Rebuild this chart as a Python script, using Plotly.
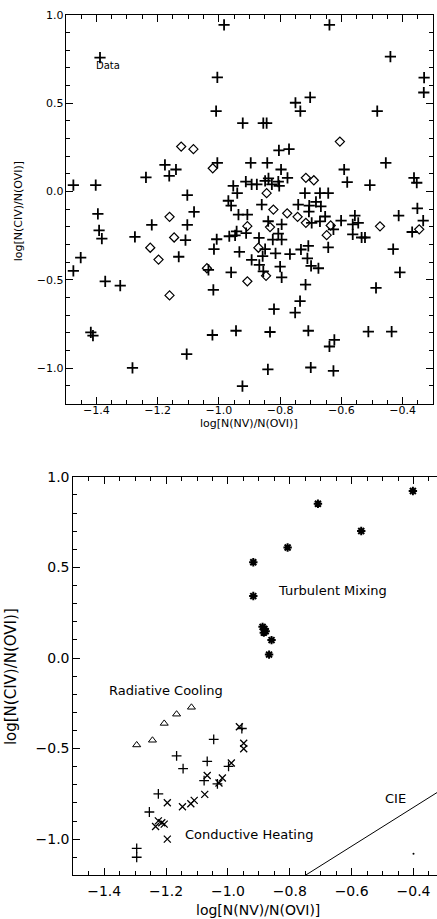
import plotly.graph_objects as go

# Top panel: observed data
data_plus_x = [
    -1.388, -1.005, -1.009, -1.005, -1.176, -1.162, -1.140, -1.238, -1.475, -1.402,
    -1.103, -1.395, -1.081, -0.983, -0.639, -0.440, -0.330, -0.331, -0.750, -0.702,
    -0.734, -0.483, -0.922, -0.855, -0.844, -0.804, -0.771, -0.896, -0.842, -0.455,
    -0.797, -0.591, -0.912, -0.893, -0.876, -0.849, -0.838, -0.827, -0.806, -0.803,
    -0.776, -0.581, -0.507, -0.363, -0.354, -0.953, -0.940, -0.719, -0.670, -0.643,
    -0.969, -0.960, -0.860, -0.741, -0.705, -0.683, -0.667, -0.706, -0.936, -0.907,
    -0.653, -0.556, -0.413, -0.352, -0.333, -1.219, -1.103, -1.391, -1.382, -1.274,
    -1.109, -1.007, -1.016, -1.451, -1.131, -1.475, -1.034, -1.371, -1.322, -1.018,
    -1.418, -1.411, -1.021, -1.105, -1.282, -0.839, -0.795, -0.966, -0.942, -0.947,
    -0.911, -0.806, -0.824, -0.795, -0.869, -0.849, -0.933, -0.815, -0.857, -0.893,
    -0.868, -0.800, -0.960, -0.855, -0.697, -0.670, -0.626, -0.601, -0.563, -0.545,
    -0.563, -0.534, -0.523, -0.369, -0.431, -0.409, -0.487, -0.643, -0.768, -0.732,
    -0.708, -0.711, -0.699, -0.675, -0.795, -0.717, -0.735, -0.820, -0.751, -0.944,
    -0.833, -0.708, -0.512, -0.436, -0.623, -0.639, -0.840, -0.700, -0.626, -0.923,
]
data_plus_y = [
    0.758, 0.646, 0.455, 0.162, 0.151, 0.089, 0.125, 0.080, 0.037, 0.037,
    -0.020, -0.126, -0.115, 0.944, 0.944, 0.764, 0.645, 0.561, 0.503, 0.533,
    0.455, 0.455, 0.388, 0.388, 0.388, 0.233, 0.240, 0.162, 0.162, 0.162,
    0.125, 0.125, 0.056, 0.041, 0.041, 0.060, 0.075, 0.041, 0.056, 0.032,
    0.078, 0.053, 0.037, 0.077, 0.050, 0.032, -0.009, -0.009, -0.009, -0.009,
    -0.052, -0.080, -0.074, -0.074, -0.080, -0.058, -0.084, -0.113, -0.130, -0.130,
    -0.141, -0.136, -0.136, -0.095, -0.164, -0.188, -0.188, -0.220, -0.266, -0.257,
    -0.275, -0.270, -0.326, -0.374, -0.369, -0.449, -0.443, -0.508, -0.532, -0.556,
    -0.797, -0.816, -0.812, -0.920, -0.998, -0.168, -0.186, -0.253, -0.225, -0.248,
    -0.235, -0.238, -0.272, -0.272, -0.262, -0.326, -0.341, -0.350, -0.365, -0.387,
    -0.415, -0.425, -0.458, -0.452, -0.177, -0.169, -0.214, -0.164, -0.186, -0.177,
    -0.242, -0.260, -0.260, -0.229, -0.326, -0.458, -0.545, -0.316, -0.354, -0.328,
    -0.307, -0.378, -0.421, -0.434, -0.486, -0.527, -0.620, -0.666, -0.685, -0.788,
    -0.795, -0.788, -0.793, -0.793, -0.840, -0.877, -1.007, -0.996, -1.015, -1.102,
]
data_diamond_x = [
    -1.123, -1.083, -1.020, -1.161, -0.605, -0.716, -0.690, -0.844, -0.822, -0.777,
    -0.743, -1.146, -1.224, -1.197, -1.039, -1.161, -0.907, -0.833, -0.871, -0.846,
    -0.716, -0.635, -0.648, -0.474, -0.346, -0.907,
]
data_diamond_y = [
    0.255, 0.240, 0.132, -0.143, 0.283, 0.078, 0.064, -0.009, -0.102, -0.123,
    -0.143, -0.260, -0.318, -0.385, -0.434, -0.588, -0.196, -0.201, -0.318, -0.477,
    -0.177, -0.192, -0.247, -0.197, -0.214, -0.508,
]

# Bottom panel: model predictions
mixing_x = [-0.402, -0.709, -0.569, -0.807, -0.918, -0.918, -0.888, -0.882, -0.878, -0.884, -0.859, -0.867]
mixing_y = [0.922, 0.852, 0.701, 0.610, 0.529, 0.342, 0.172, 0.160, 0.148, 0.140, 0.099, 0.019]
cooling_x = [-1.295, -1.244, -1.206, -1.166, -1.118]
cooling_y = [-0.480, -0.454, -0.361, -0.310, -0.272]
model_plus_x = [-1.295, -1.295, -1.254, -1.225, -1.166, -1.145, -1.046, -1.067, -1.077, -0.955, -0.998, -1.034]
model_plus_y = [-1.051, -1.100, -0.850, -0.750, -0.540, -0.611, -0.449, -0.571, -0.677, -0.389, -0.598, -0.695]
heating_x = [-0.963, -0.949, -0.949, -0.989, -1.018, -1.029, -1.067, -1.075, -1.109, -1.120,
             -1.147, -1.196, -1.225, -1.214, -1.234, -1.206, -1.196]
heating_y = [-0.379, -0.471, -0.501, -0.580, -0.662, -0.690, -0.649, -0.753, -0.786, -0.805,
             -0.821, -0.799, -0.899, -0.909, -0.930, -0.917, -1.000]
cie_x = [-0.75, -0.30]
cie_y = [-1.20, -0.717]
stray_x = [-0.40]
stray_y = [-1.08]

xticks = [-1.4, -1.2, -1.0, -0.8, -0.6, -0.4]
yticks = [-1.0, -0.5, 0.0, 0.5, 1.0]

FONT = "DejaVu Sans"
W, H = 437, 919


def marker(symbol, size, width):
    return dict(symbol=symbol, size=size, color="black", line=dict(width=width, color="black"))


def axis_title(text, px, py, size, angle=0):
    # axis titles placed in pixel terms on the paper
    return dict(text=text, x=px / W, y=1 - py / H, xref="paper", yref="paper",
                xanchor="center", yanchor="middle", showarrow=False,
                textangle=angle, font=dict(size=size))


fig = go.Figure()

fig.add_trace(go.Scatter(x=data_plus_x, y=data_plus_y, mode="markers",
                         marker=marker("cross-thin", 8, 1.8), xaxis="x", yaxis="y"))
fig.add_trace(go.Scatter(x=data_diamond_x, y=data_diamond_y, mode="markers",
                         marker=marker("diamond-open", 7, 1.2), xaxis="x", yaxis="y"))

fig.add_trace(go.Scatter(x=mixing_x, y=mixing_y, mode="markers",
                         marker=marker("asterisk-open", 7, 2), xaxis="x2", yaxis="y2"))
fig.add_trace(go.Scatter(x=cooling_x, y=cooling_y, mode="markers",
                         marker=marker("triangle-up-open", 7, 1), xaxis="x2", yaxis="y2"))
fig.add_trace(go.Scatter(x=model_plus_x, y=model_plus_y, mode="markers",
                         marker=marker("cross-thin", 7, 1.3), xaxis="x2", yaxis="y2"))
fig.add_trace(go.Scatter(x=heating_x, y=heating_y, mode="markers",
                         marker=marker("x-thin", 7, 1.3), xaxis="x2", yaxis="y2"))
fig.add_trace(go.Scatter(x=cie_x, y=cie_y, mode="lines", line=dict(color="black", width=1),
                         xaxis="x2", yaxis="y2"))
fig.add_trace(go.Scatter(x=stray_x, y=stray_y, mode="markers",
                         marker=dict(symbol="circle", size=2, color="black"), xaxis="x2", yaxis="y2"))

axis_common = dict(
    showgrid=False, zeroline=False, showline=True, linecolor="black", linewidth=1,
    ticks="inside", ticklen=7, tickwidth=1, tickcolor="black", tickformat=".1f",
)
minor_x = dict(dtick=0.05, tick0=0, ticks="inside", ticklen=4, tickcolor="black")
minor_y = dict(dtick=0.1, tick0=0, ticks="inside", ticklen=4, tickcolor="black")

fig.update_layout(
    width=W, height=H,
    margin=dict(l=0, r=0, t=0, b=0),
    showlegend=False,
    paper_bgcolor="white", plot_bgcolor="white",
    font=dict(family=FONT, color="black"),
    xaxis=dict(axis_common, domain=[65.7 / W, 433.3 / W], range=[-1.5, -0.3], anchor="y",
               tickvals=xticks, mirror="allticks", tickfont=dict(size=11), minor=minor_x,
               ticklabelstandoff=-4),
    yaxis=dict(axis_common, domain=[1 - 399 / H, 1 - 7 / H], range=[-1.2, 1.0], anchor="x",
               tickvals=yticks, mirror="allticks", tickfont=dict(size=11), minor=minor_y,
               ticklabelstandoff=-1),
    xaxis2=dict(axis_common, domain=[73.3 / W, 1.0], range=[-1.5, -0.324], anchor="y2",
                tickvals=xticks, mirror="allticks", tickfont=dict(size=14), minor=minor_x,
                ticklabelstandoff=3),
    yaxis2=dict(axis_common, domain=[1 - 875 / H, 1 - 473 / H], range=[-1.2, 1.0], anchor="x2",
                tickvals=yticks, mirror=False, tickfont=dict(size=14), minor=minor_y),
    annotations=[
        axis_title("log[N(NV)/N(OVI)]", 249, 419, 11),
        axis_title("log[N(CIV)/N(OVI)]", 18, 205, 11, -90),
        axis_title("log[N(NV)/N(OVI)]", 258, 910, 14),
        axis_title("log[N(CIV)/N(OVI)]", 11, 675, 15, -90),
        dict(text="Data", x=-1.362, y=0.715, xref="x", yref="y", showarrow=False, font=dict(size=10)),
        dict(text="Turbulent Mixing", x=-0.845, y=0.372, xref="x2", yref="y2", xanchor="left",
             showarrow=False, font=dict(size=13)),
        dict(text="Radiative Cooling", x=-1.391, y=-0.178, xref="x2", yref="y2", xanchor="left",
             showarrow=False, font=dict(size=13)),
        dict(text="Conductive Heating", x=-1.145, y=-0.976, xref="x2", yref="y2", xanchor="left",
             showarrow=False, font=dict(size=13)),
        dict(text="CIE", x=-0.498, y=-0.775, xref="x2", yref="y2", xanchor="left",
             showarrow=False, font=dict(size=13)),
    ],
)

# drop the default page margin so the figure sits at the window's top-left corner
fig.write_html(
    "out.html",
    config={"displayModeBar": False},
    post_script="document.body.style.margin='0';document.body.style.overflow='hidden';",
)
